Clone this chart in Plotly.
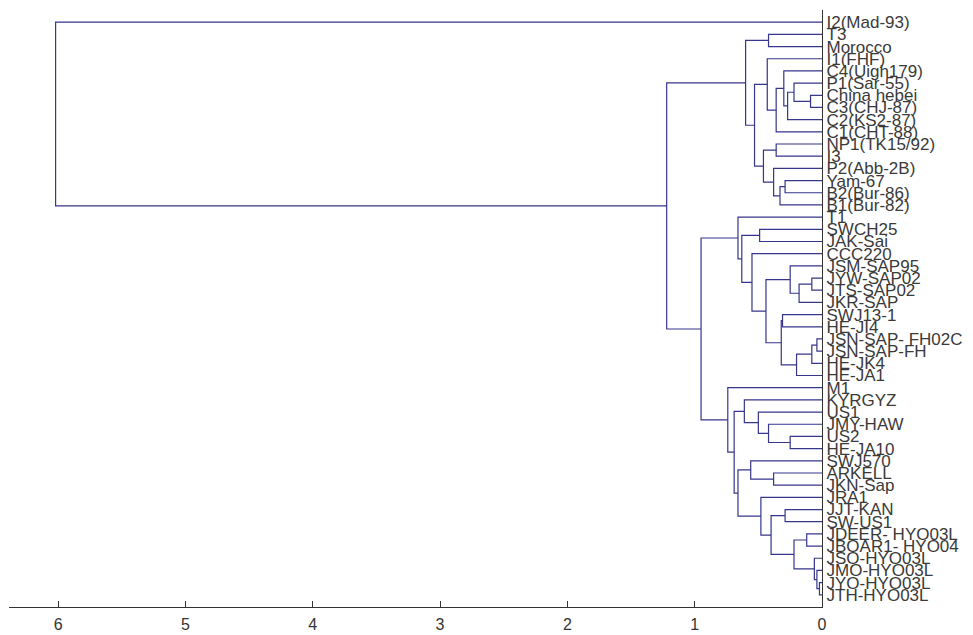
import plotly.graph_objects as go

# Leaf labels, top to bottom
leaf_labels = [
    "I2(Mad-93)", "T3", "Morocco", "I1(FHF)", "C4(Uigh179)", "P1(Sar-55)",
    "China hebei", "C3(CHJ-87)", "C2(KS2-87)", "C1(CHT-88)", "NP1(TK15/92)", "I3",
    "P2(Abb-2B)", "Yam-67", "B2(Bur-86)", "B1(Bur-82)", "T1", "SWCH25",
    "JAK-Sai", "CCC220", "JSM-SAP95", "JYW-SAP02", "JTS-SAP02", "JKR-SAP",
    "SWJ13-1", "HE-JI4", "JSN-SAP- FH02C", "JSN-SAP-FH", "HE-JK4", "HE-JA1",
    "M1", "KYRGYZ", "US1", "JMY-HAW", "US2", "HE-JA10",
    "SWJ570", "ARKELL", "JKN-Sap", "JRA1", "JJT-KAN", "SW-US1",
    "JDEER- HYO03L", "JBOAR1- HYO04", "JSO-HYO03L", "JMO-HYO03L", "JYO-HYO03L", "JTH-HYO03L",
]

# Merges: cluster name, left child, right child, merge height
# (integers = leaf number 1..48, strings = earlier clusters)
merge_names = ["a1", "a2", "a3", "a4", "a5", "a6", "a7", "a8", "a9", "a10", "a11", "a12", "a13", "A",
               "b1", "b2", "b3", "b4", "b5", "b6", "b7", "b8", "b9", "b10", "b11", "b12", "B1",
               "c1", "c2", "c3", "c4", "c5", "c6", "c7", "c8", "c9", "c10", "c11", "c12", "c13", "c14", "c15", "c16", "C",
               "B", "AB", "root"]
merge_left = [7, 6, "a2", 5, "a4", 4, 2, 11, 14, "a9", 13, "a8", "a6", "a7",
              18, 22, "b2", 21, 25, 27, "b6", "b7", "b5", "b4", 20, "b1", 17,
              35, 34, 33, 32, 38, 37, 41, 43, 47, 46, 45, "c8", "c7", 40, "c6", "c4", 31,
              "B1", "A", 1]
merge_right = [8, "a1", 9, "a3", 10, "a5", 3, 12, 15, 16, "a10", "a11", "a12", "a13",
               19, 23, 24, "b3", 26, 28, 29, 30, "b8", "b9", "b10", "b11", "b12",
               36, "c1", "c2", "c3", 39, "c5", 42, 44, 48, "c9", "c10", "c11", "c12", "c13", "c14", "c15", "c16",
               "C", "B", "AB"]
merge_height = [0.09, 0.22, 0.27, 0.30, 0.36, 0.43, 0.42, 0.36, 0.29, 0.33, 0.38, 0.46, 0.53, 0.60,
                0.49, 0.08, 0.18, 0.25, 0.31, 0.04, 0.08, 0.20, 0.32, 0.44, 0.55, 0.63, 0.66,
                0.25, 0.42, 0.50, 0.61, 0.38, 0.56, 0.29, 0.12, 0.02, 0.04, 0.06, 0.22, 0.40, 0.48, 0.66, 0.69, 0.74,
                0.95, 1.22, 6.02]

x_ticks = [0, 1, 2, 3, 4, 5, 6]

# Build dendrogram segments
pos = {i + 1: float(i + 1) for i in range(len(leaf_labels))}
hgt = {i + 1: 0.0 for i in range(len(leaf_labels))}
xs, ys = [], []
for name, l, r, h in zip(merge_names, merge_left, merge_right, merge_height):
    yl, yr = pos[l], pos[r]
    xs += [hgt[l], h, h, hgt[r], None]
    ys += [yl, yl, yr, yr, None]
    pos[name] = (yl + yr) / 2
    hgt[name] = h

fig = go.Figure()
fig.add_trace(go.Scatter(x=xs, y=ys, mode="lines",
                         line=dict(color="#36368c", width=1.2),
                         hoverinfo="skip", showlegend=False))

n = len(leaf_labels)
fig.update_layout(
    width=965, height=627,
    margin=dict(l=1, r=151, t=2, b=28),
    paper_bgcolor="white", plot_bgcolor="white",
    font=dict(family="Liberation Sans, Arial, sans-serif", color="#333333"),
    xaxis=dict(range=[6.386, 0], tickvals=x_ticks, ticktext=[str(t) for t in x_ticks],
               ticks="inside", ticklen=6, tickwidth=1, tickcolor="#333333",
               showline=True, linecolor="#333333", linewidth=1.2,
               showgrid=False, zeroline=False, automargin=False,
               ticklabelstandoff=3,
               tickfont=dict(size=16, color="#333333")),
    yaxis=dict(range=[n + 1, 0], tickvals=list(range(1, n + 1)), ticktext=leaf_labels,
               side="right", ticks="", showline=True, linecolor="#333333", linewidth=1.2,
               showgrid=False, zeroline=False, automargin=False,
               tickfont=dict(size=17, color="#3a3a3a")),
)

fig.write_html("out.html")
